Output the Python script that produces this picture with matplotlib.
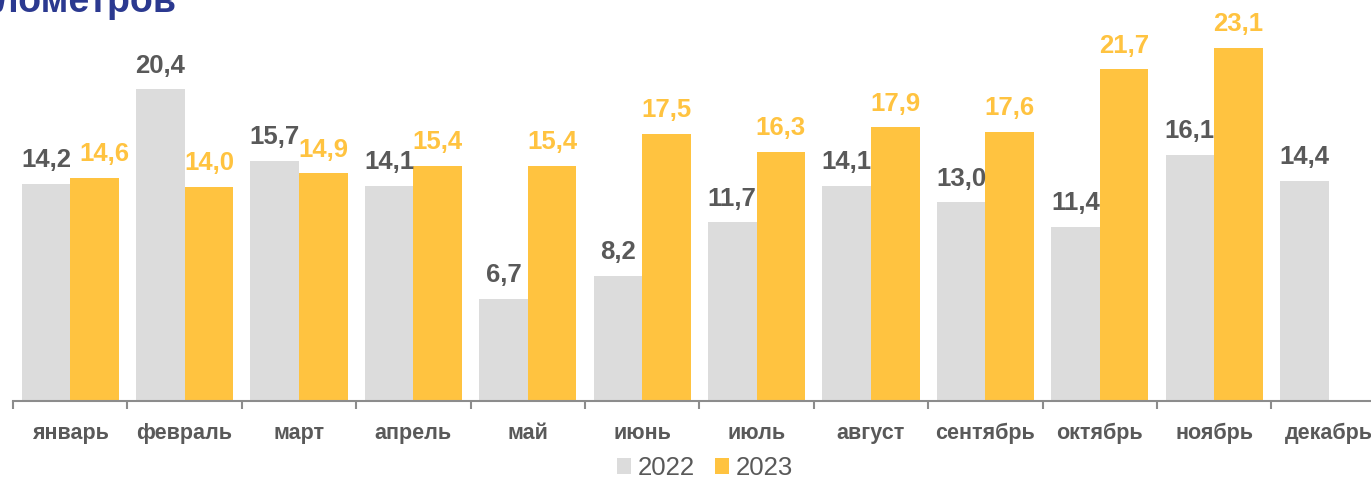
import matplotlib
matplotlib.use("Agg")
import matplotlib.pyplot as plt
import numpy as np

plt.rcParams['font.family'] = ['Liberation Sans', 'DejaVu Sans']

months = ["январь", "февраль", "март", "апрель", "май", "июнь", "июль",
          "август", "сентябрь", "октябрь", "ноябрь", "декабрь"]
values_2022 = [14.2, 20.4, 15.7, 14.1, 6.7, 8.2, 11.7, 14.1, 13.0, 11.4, 16.1, 14.4]
values_2023 = [14.6, 14.0, 14.9, 15.4, 15.4, 17.5, 16.3, 17.9, 17.6, 21.7, 23.1, None]
series_names = ["2022", "2023"]
title_text = "километров"

GRAY = "#DCDCDC"
YELLOW = "#FFC340"
TEXT_GRAY = "#595959"
AXIS_GRAY = "#8C8C8C"
TITLE_BLUE = "#2B3990"

W, H = 1371, 479
fig = plt.figure(figsize=(W / 100, H / 100), dpi=100)

left_px, cat_px, base_px = 13, 114.4, 401
ymax = 25
px_per_unit = 15.28
ax = fig.add_axes([left_px / W, (H - base_px) / H, 12 * cat_px / W, ymax * px_per_unit / H])

x = np.arange(len(months))
w = 0.425
v22 = np.array(values_2022, dtype=float)
v23 = np.array([np.nan if v is None else v for v in values_2023], dtype=float)

b1 = ax.bar(x - w / 2, v22, w, color=GRAY, label=series_names[0])
b2 = ax.bar(x + w / 2, v23, w, color=YELLOW, label=series_names[1])

def fmt(v):
    return f"{v:.1f}".replace(".", ",")

for xi, v in zip(x - w / 2, v22):
    ax.annotate(fmt(v), (xi, v), xytext=(0, 12), textcoords="offset points",
                ha="center", va="baseline", fontsize=18.5, fontweight="bold",
                color=TEXT_GRAY)
for i, (xi, v) in enumerate(zip(x + w / 2, v23)):
    if np.isnan(v):
        continue
    dx = 7 if i == 0 else 0
    ax.annotate(fmt(v), (xi, v), xytext=(dx, 12), textcoords="offset points",
                ha="center", va="baseline", fontsize=18.5, fontweight="bold",
                color=YELLOW)

ax.set_xlim(-0.5, len(months) - 0.5)
ax.set_ylim(0, ymax)
ax.set_yticks([])
for s in ["top", "right", "left"]:
    ax.spines[s].set_visible(False)
ax.spines["bottom"].set_color(AXIS_GRAY)
ax.spines["bottom"].set_linewidth(1.5)

ax.set_xticks(x)
ax.set_xticklabels(months, fontsize=15.5, fontweight="bold", color=TEXT_GRAY)
ax.tick_params(axis="x", which="major", length=0, pad=16)
ax.set_xticks(np.arange(-0.5, len(months), 1.0), minor=True)
ax.tick_params(axis="x", which="minor", length=6, width=1.5, color=AXIS_GRAY)

leg = fig.legend(handles=[b1, b2], labels=series_names, loc="center",
                 bbox_to_anchor=(705 / W, 1 - 468 / H), ncol=2, frameon=False,
                 fontsize=18.5, handlelength=0.55, handleheight=0.55,
                 handletextpad=0.25, columnspacing=0.8)
for t in leg.get_texts():
    t.set_color(TEXT_GRAY)

fig.text(176 / W, 1 - 12 / H, title_text, ha="right", va="baseline",
         fontsize=27, fontweight="bold", color=TITLE_BLUE)

fig.savefig("out.png", dpi=100)
